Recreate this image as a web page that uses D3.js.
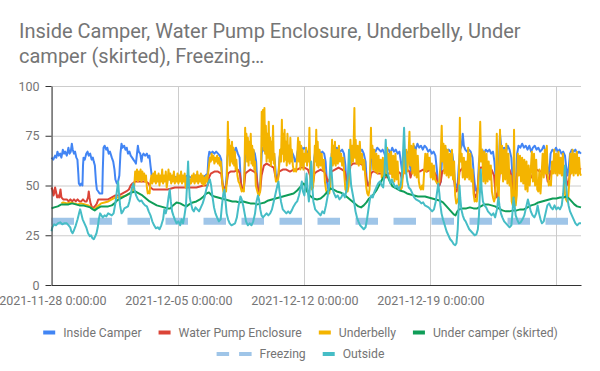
<!DOCTYPE html>
<html><head><meta charset="utf-8">
<script src="https://cdn.jsdelivr.net/npm/d3@7"></script>
<style>body{margin:0;background:#fff;} svg text{font-family:Roboto,"Noto Sans",sans-serif;}</style>
</head><body>
<svg id="chart" width="600" height="371"></svg>
<script>
// ---------- data ----------
const titleLines = ["Inside Camper, Water Pump Enclosure, Underbelly, Under", "camper (skirted), Freezing\u2026"];
const seriesNames = ["Inside Camper", "Water Pump Enclosure", "Underbelly", "Under camper (skirted)", "Freezing", "Outside"];
const xGridDays = ["2021-11-28", "2021-12-05", "2021-12-12", "2021-12-19", "2021-12-26"];
const xTickLabels = ["2021-11-28 0:00:00", "2021-12-05 0:00:00", "2021-12-12 0:00:00", "2021-12-19 0:00:00"];
const yTicks = [0, 25, 50, 75, 100];
// [days after 2021-11-28 00:00, °F]
const insideCamper = [[-0.05,64],[0.05,63],[0.15,65],[0.22,64],[0.28,67],[0.35,65],[0.43,66],[0.5,64],[0.58,68],[0.65,66],[0.71,67],[0.8,65],[0.89,69],[0.95,66],[1.02,67],[1.08,71],[1.13,68],[1.2,66],[1.26,67],[1.33,64],[1.39,63],[1.44,56],[1.47,51],[1.54,50],[1.6,51],[1.67,50],[1.7,60],[1.73,64],[1.8,63],[1.88,66],[1.95,67],[2.02,65],[2.1,66],[2.18,63],[2.25,64],[2.3,62],[2.36,60],[2.42,52],[2.47,48],[2.55,47],[2.62,46],[2.7,46],[2.77,46],[2.8,58],[2.84,69],[2.9,70],[2.99,68],[3.05,69],[3.13,66],[3.2,67],[3.3,64],[3.38,62],[3.45,58],[3.5,53],[3.58,51],[3.65,52],[3.72,55],[3.78,66],[3.84,71],[3.9,69],[3.99,70],[4.06,68],[4.13,69],[4.2,66],[4.28,67],[4.35,65],[4.43,64],[4.5,63],[4.58,62],[4.64,61],[4.7,66],[4.75,70],[4.8,67],[4.88,66],[4.95,62],[5.0,65],[5.06,66],[5.15,65],[5.25,66],[5.32,64],[5.39,65],[5.45,60],[5.52,55],[5.58,54],[5.7,53],[5.9,54],[6.1,53],[6.3,54],[6.5,53],[6.7,55],[6.9,54],[7.1,55],[7.3,54],[7.5,55],[7.7,54],[7.9,55],[8.1,55],[8.3,54],[8.5,55],[8.62,56],[8.67,64],[8.72,67],[8.8,66],[8.9,67],[9.0,66],[9.1,67],[9.2,66],[9.3,65],[9.38,63],[9.42,56],[9.47,50],[9.55,49],[9.62,49],[9.68,55],[9.72,64],[9.8,68],[9.9,66],[10.0,68],[10.1,67],[10.2,69],[10.3,66],[10.4,64],[10.45,55],[10.5,49],[10.58,48],[10.65,50],[10.7,62],[10.75,68],[10.85,67],[10.95,69],[11.05,67],[11.15,68],[11.25,66],[11.32,62],[11.38,52],[11.45,47],[11.52,47],[11.58,56],[11.63,66],[11.7,69],[11.8,67],[11.9,68],[12.0,66],[12.1,68],[12.2,67],[12.3,66],[12.36,62],[12.42,55],[12.5,54],[12.56,56],[12.62,64],[12.7,68],[12.8,69],[12.9,67],[13.0,68],[13.1,66],[13.2,68],[13.3,67],[13.4,65],[13.48,62],[13.55,63],[13.62,67],[13.7,69],[13.8,70],[13.9,68],[14.0,69],[14.1,68],[14.2,66],[14.3,64],[14.36,56],[14.42,52],[14.48,53],[14.55,64],[14.62,68],[14.7,67],[14.8,68],[14.9,66],[15.0,67],[15.1,66],[15.18,62],[15.25,52],[15.33,48],[15.4,49],[15.46,58],[15.52,66],[15.6,68],[15.7,67],[15.8,69],[15.9,68],[16.0,67],[16.1,68],[16.2,66],[16.28,60],[16.34,50],[16.42,49],[16.48,58],[16.54,67],[16.62,68],[16.7,69],[16.8,67],[16.9,68],[17.0,69],[17.1,67],[17.2,68],[17.3,66],[17.4,62],[17.46,53],[17.52,51],[17.58,50],[17.64,52],[17.7,62],[17.76,67],[17.85,68],[17.95,67],[18.05,69],[18.15,68],[18.25,67],[18.35,68],[18.45,66],[18.52,64],[18.58,67],[18.68,68],[18.78,66],[18.88,69],[18.98,67],[19.08,68],[19.18,66],[19.28,67],[19.36,62],[19.42,58],[19.5,64],[19.58,68],[19.68,67],[19.78,66],[19.86,60],[19.92,57],[19.98,66],[20.08,70],[20.18,68],[20.28,71],[20.38,69],[20.48,70],[20.58,68],[20.68,70],[20.78,69],[20.88,67],[20.98,68],[21.08,66],[21.18,67],[21.28,65],[21.36,58],[21.42,51],[21.5,50],[21.58,52],[21.64,62],[21.72,68],[21.82,69],[21.92,67],[22.02,68],[22.12,67],[22.22,66],[22.3,60],[22.36,52],[22.44,49],[22.52,51],[22.58,60],[22.66,68],[22.74,70],[22.8,76],[22.86,70],[22.94,68],[23.04,67],[23.14,68],[23.24,67],[23.34,64],[23.42,55],[23.5,48],[23.58,47],[23.64,50],[23.7,62],[23.78,67],[23.88,68],[23.98,66],[24.08,68],[24.18,67],[24.28,68],[24.38,66],[24.48,67],[24.56,62],[24.64,52],[24.72,50],[24.8,60],[24.87,76],[24.93,70],[25.0,68],[25.1,69],[25.2,67],[25.3,70],[25.4,68],[25.5,64],[25.56,55],[25.62,47],[25.7,46],[25.76,52],[25.82,66],[25.9,70],[26.0,69],[26.1,71],[26.2,69],[26.3,70],[26.4,68],[26.5,70],[26.6,67],[26.7,69],[26.8,70],[26.9,68],[27.0,69],[27.1,67],[27.2,68],[27.3,70],[27.4,67],[27.5,60],[27.56,56],[27.62,58],[27.68,66],[27.78,68],[27.88,67],[27.98,69],[28.08,67],[28.18,68],[28.28,66],[28.38,67],[28.48,65],[28.56,58],[28.62,55],[28.7,60],[28.76,66],[28.86,68],[28.96,67],[29.06,68],[29.16,66],[29.26,67],[29.37,66]];
const waterPump = [[-0.05,49],[0.0,48],[0.06,45],[0.1,46],[0.15,49],[0.2,47],[0.26,44],[0.32,45],[0.38,44],[0.45,48],[0.5,44],[0.6,43],[0.7,43],[0.8,43],[0.9,42],[1.0,43],[1.1,42],[1.2,43],[1.3,42],[1.4,43],[1.5,42],[1.6,42],[1.7,43],[1.8,42],[1.9,42],[1.98,44],[2.02,47],[2.06,44],[2.12,41],[2.2,39],[2.3,39],[2.4,40],[2.47,41],[2.55,43],[2.7,43],[2.9,43],[3.1,43],[3.3,44],[3.5,45],[3.7,45],[3.9,46],[4.1,47],[4.25,48],[4.35,50],[4.45,51],[4.6,52],[4.8,52],[5.0,52],[5.2,52],[5.35,51],[5.45,49],[5.6,48],[5.8,48],[6.0,48],[6.4,48],[6.8,49],[7.2,49],[7.6,49],[8.0,49],[8.4,50],[8.62,50],[8.7,54],[8.8,56],[9.0,57],[9.2,57],[9.38,56],[9.45,51],[9.52,48],[9.6,48],[9.68,51],[9.76,56],[9.9,57],[10.1,57],[10.3,58],[10.42,56],[10.48,51],[10.56,48],[10.64,49],[10.72,56],[10.85,57],[11.0,58],[11.2,57],[11.32,56],[11.4,50],[11.46,46],[11.54,47],[11.62,55],[11.75,60],[11.9,61],[12.1,60],[12.3,59],[12.38,55],[12.45,53],[12.52,53],[12.6,57],[12.8,58],[13.0,58],[13.2,57],[13.4,58],[13.6,58],[13.8,59],[14.0,59],[14.2,58],[14.32,55],[14.4,51],[14.48,51],[14.56,56],[14.7,57],[14.9,58],[15.1,57],[15.2,55],[15.3,52],[15.4,53],[15.5,57],[15.7,58],[15.9,59],[16.1,58],[16.25,57],[16.32,53],[16.4,52],[16.48,54],[16.56,60],[16.7,61],[16.9,61],[17.1,61],[17.3,60],[17.42,55],[17.5,50],[17.6,50],[17.7,56],[17.8,57],[17.9,57],[18.1,56],[18.3,56],[18.45,55],[18.52,54],[18.6,56],[18.8,56],[19.0,56],[19.2,57],[19.34,56],[19.42,53],[19.5,56],[19.7,58],[19.84,57],[19.9,54],[19.98,57],[20.2,58],[20.4,57],[20.6,58],[20.8,57],[21.0,58],[21.2,57],[21.32,55],[21.4,51],[21.5,50],[21.58,52],[21.66,57],[21.8,58],[22.0,58],[22.2,57],[22.3,54],[22.38,48],[22.46,47],[22.54,50],[22.62,57],[22.8,59],[23.0,59],[23.2,58],[23.36,55],[23.44,46],[23.52,44],[23.6,46],[23.7,56],[23.8,59],[24.0,59],[24.2,58],[24.4,58],[24.54,55],[24.62,46],[24.7,44],[24.78,48],[24.86,57],[25.0,59],[25.2,58],[25.4,58],[25.5,55],[25.58,46],[25.66,44],[25.74,46],[25.82,56],[26.0,58],[26.2,58],[26.4,57],[26.5,55],[26.6,54],[26.7,56],[26.9,58],[27.1,57],[27.3,58],[27.45,56],[27.52,52],[27.6,53],[27.68,57],[27.9,59],[28.1,59],[28.3,58],[28.5,57],[28.58,52],[28.66,50],[28.74,55],[28.82,59],[29.0,60],[29.2,59],[29.37,58]];
const underbelly = [[0.5,41],[0.6,41.5],[0.8,41],[1.0,41.5],[1.2,41],[1.4,40.5],[1.6,41],[1.8,40.5],[2.0,40],[2.2,38.5],[2.35,38],[2.5,39.5],[2.7,41],[2.9,41.5],[3.1,42],[3.3,43],[3.5,44],[3.7,44],[3.9,44.5],[4.1,45],[4.3,46],[4.45,47],[4.55,50],[4.6,57],[4.65,53],[4.7,58],[4.75,52],[4.8,57],[4.85,53],[4.9,58],[4.95,52],[5.0,57],[5.05,53],[5.1,56],[5.15,52],[5.2,55],[5.25,49],[5.3,46],[5.35,47],[5.4,46],[5.45,52],[5.5,55],[5.55,51],[5.6,56],[5.65,52],[5.7,57],[5.75,51],[5.8,55],[5.85,52],[5.9,56],[5.95,50],[6.0,55],[6.05,52],[6.1,58],[6.15,51],[6.2,55],[6.25,52],[6.3,57],[6.35,49],[6.4,52],[6.45,58],[6.5,53],[6.55,56],[6.6,51],[6.65,55],[6.7,52],[6.75,57],[6.8,51],[6.85,54],[6.9,52],[6.95,56],[7.0,51],[7.05,55],[7.1,52],[7.15,57],[7.2,51],[7.25,55],[7.3,52],[7.35,56],[7.4,49],[7.45,54],[7.5,51],[7.55,55],[7.6,50],[7.65,53],[7.7,51],[7.75,55],[7.8,52],[7.85,56],[7.9,51],[7.95,55],[8.0,52],[8.05,57],[8.1,51],[8.15,55],[8.2,52],[8.25,56],[8.3,51],[8.35,55],[8.4,50],[8.45,54],[8.5,51],[8.55,55],[8.6,52],[8.65,56],[8.7,60],[8.75,64],[8.8,62],[8.85,66],[8.9,63],[8.95,65],[9.0,61],[9.05,64],[9.1,62],[9.15,65],[9.2,61],[9.25,64],[9.3,60],[9.35,62],[9.4,57],[9.45,50],[9.5,47],[9.55,46],[9.6,48],[9.65,47],[9.7,55],[9.75,82],[9.78,66],[9.82,73],[9.86,60],[9.9,70],[9.94,62],[9.98,72],[10.02,61],[10.06,69],[10.1,60],[10.14,67],[10.18,58],[10.22,63],[10.28,55],[10.34,52],[10.4,51],[10.46,49],[10.52,47],[10.58,48],[10.64,47],[10.68,60],[10.71,79],[10.74,66],[10.78,76],[10.82,62],[10.86,74],[10.9,60],[10.94,72],[10.98,63],[11.02,76],[11.06,61],[11.1,70],[11.14,60],[11.18,68],[11.22,58],[11.26,62],[11.3,50],[11.36,48],[11.42,46],[11.48,45],[11.54,47],[11.6,62],[11.63,87],[11.66,70],[11.7,88],[11.74,68],[11.78,89],[11.82,66],[11.86,80],[11.9,62],[11.94,76],[11.98,64],[12.02,82],[12.06,62],[12.1,74],[12.14,60],[12.18,72],[12.22,63],[12.26,80],[12.3,61],[12.34,66],[12.38,55],[12.42,52],[12.48,52],[12.54,53],[12.6,60],[12.65,68],[12.7,62],[12.75,83],[12.78,66],[12.82,76],[12.86,62],[12.9,78],[12.94,63],[12.98,72],[13.02,60],[13.06,76],[13.1,62],[13.14,70],[13.18,61],[13.22,74],[13.26,62],[13.3,68],[13.36,60],[13.42,57],[13.48,58],[13.54,57],[13.6,64],[13.65,74],[13.7,62],[13.74,72],[13.78,58],[13.82,70],[13.86,60],[13.9,68],[13.95,58],[14.0,66],[14.05,62],[14.1,69],[14.15,60],[14.2,66],[14.24,62],[14.28,79],[14.32,58],[14.36,50],[14.42,48],[14.48,49],[14.54,56],[14.58,70],[14.62,62],[14.66,78],[14.7,60],[14.74,72],[14.78,59],[14.84,68],[14.9,60],[14.96,66],[15.02,58],[15.08,63],[15.14,52],[15.2,48],[15.26,46],[15.32,47],[15.38,46],[15.44,50],[15.5,62],[15.54,73],[15.58,60],[15.62,70],[15.66,61],[15.7,72],[15.74,60],[15.8,68],[15.86,61],[15.92,70],[15.98,62],[16.04,66],[16.1,60],[16.16,64],[16.22,55],[16.28,48],[16.34,47],[16.4,47],[16.46,50],[16.52,62],[16.56,73],[16.6,61],[16.65,70],[16.7,62],[16.74,72],[16.78,89],[16.81,64],[16.85,73],[16.9,61],[16.96,70],[17.02,60],[17.08,72],[17.14,61],[17.2,66],[17.26,58],[17.32,63],[17.38,55],[17.44,49],[17.5,46],[17.56,45],[17.62,48],[17.66,60],[17.7,79],[17.73,64],[17.78,70],[17.82,58],[17.88,68],[17.94,57],[18.0,66],[18.06,56],[18.12,65],[18.18,57],[18.24,63],[18.3,54],[18.36,64],[18.42,53],[18.48,62],[18.54,55],[18.6,69],[18.65,58],[18.7,66],[18.76,56],[18.82,67],[18.88,54],[18.94,65],[19.0,52],[19.06,66],[19.12,53],[19.18,62],[19.24,51],[19.3,49],[19.36,48],[19.42,49],[19.48,56],[19.54,66],[19.6,56],[19.66,68],[19.72,57],[19.78,64],[19.84,77],[19.88,60],[19.94,70],[20.0,56],[20.06,71],[20.12,55],[20.18,68],[20.24,54],[20.3,65],[20.36,52],[20.42,49],[20.48,48],[20.54,50],[20.6,48],[20.66,58],[20.72,66],[20.78,57],[20.84,66],[20.9,58],[20.96,64],[21.02,54],[21.08,61],[21.14,53],[21.2,60],[21.26,53],[21.32,52],[21.38,51],[21.44,51],[21.5,52],[21.56,60],[21.63,80],[21.68,62],[21.73,71],[21.78,56],[21.84,70],[21.9,55],[21.96,68],[22.02,54],[22.08,66],[22.14,55],[22.2,68],[22.26,53],[22.32,62],[22.38,45],[22.44,41],[22.5,42],[22.56,44],[22.6,60],[22.64,84],[22.68,62],[22.74,66],[22.8,54],[22.86,64],[22.92,53],[22.98,62],[23.04,54],[23.1,69],[23.16,53],[23.22,66],[23.28,52],[23.34,58],[23.4,46],[23.46,42],[23.52,43],[23.58,42],[23.64,48],[23.7,58],[23.77,82],[23.82,62],[23.88,68],[23.94,52],[24.0,67],[24.06,51],[24.12,66],[24.18,52],[24.24,62],[24.3,53],[24.36,60],[24.42,47],[24.48,44],[24.54,42],[24.6,44],[24.66,58],[24.69,76],[24.74,50],[24.8,43],[24.87,78],[24.92,56],[24.98,70],[25.04,52],[25.1,68],[25.16,53],[25.22,71],[25.28,51],[25.34,66],[25.4,50],[25.46,55],[25.52,42],[25.58,40],[25.62,52],[25.65,78],[25.69,48],[25.74,40],[25.8,45],[25.86,66],[25.92,55],[25.98,65],[26.04,52],[26.1,64],[26.16,51],[26.22,63],[26.28,48],[26.34,62],[26.4,47],[26.46,60],[26.52,50],[26.58,58],[26.64,67],[26.7,52],[26.76,66],[26.82,50],[26.88,63],[26.94,48],[27.0,47],[27.06,58],[27.12,46],[27.18,55],[27.24,66],[27.3,54],[27.36,68],[27.42,56],[27.47,70],[27.52,55],[27.58,50],[27.64,52],[27.7,50],[27.76,62],[27.82,56],[27.88,68],[27.94,56],[28.0,66],[28.06,55],[28.12,67],[28.18,56],[28.24,64],[28.3,55],[28.36,66],[28.42,52],[28.48,46],[28.54,43],[28.6,42],[28.66,44],[28.72,52],[28.78,66],[28.84,56],[28.9,68],[28.96,55],[29.02,66],[29.08,56],[29.14,67],[29.2,55],[29.26,64],[29.32,56],[29.37,55]];
const underCamper = [[-0.05,38.5],[0.1,39],[0.3,39.5],[0.5,40.5],[0.7,40.5],[0.9,40.5],[1.1,41],[1.3,40.5],[1.5,40],[1.7,40],[1.9,39.5],[2.1,39],[2.25,38],[2.35,37.5],[2.5,38.5],[2.7,39.5],[2.9,39.5],[3.1,39.5],[3.3,40],[3.45,41],[3.6,42.5],[3.8,43.5],[4.0,44.5],[4.2,45.5],[4.4,46.5],[4.6,47],[4.8,46],[5.0,45],[5.2,43.5],[5.4,42],[5.6,41],[5.8,40],[6.0,39.5],[6.2,39],[6.4,38.5],[6.55,38.5],[6.7,40],[6.9,41.5],[7.1,41],[7.3,40],[7.45,39.5],[7.6,40.5],[7.8,41.5],[8.0,42],[8.2,43],[8.4,44.5],[8.55,46],[8.7,46.5],[8.85,45],[9.0,44.5],[9.2,44],[9.4,43.5],[9.6,43],[9.8,42.5],[10.0,42],[10.2,42],[10.4,41.5],[10.6,42],[10.8,41.5],[11.0,41],[11.2,41],[11.4,40.5],[11.6,41],[11.8,41.5],[12.0,42.5],[12.2,43],[12.4,43.5],[12.6,44],[12.8,44.5],[13.0,45],[13.2,45.5],[13.4,46],[13.6,47.5],[13.8,49.5],[13.95,51],[14.05,50],[14.15,47],[14.3,45],[14.5,43.5],[14.7,43],[14.9,43.5],[15.1,45],[15.3,47],[15.45,48.5],[15.6,48],[15.8,47],[16.0,46.5],[16.2,45.5],[16.4,44],[16.6,42.5],[16.8,41],[17.0,39.5],[17.15,39],[17.3,40],[17.45,41.5],[17.6,43.5],[17.8,45],[18.0,47.5],[18.2,51],[18.35,53.5],[18.5,55.5],[18.6,55],[18.75,52],[18.9,49.5],[19.1,48.5],[19.3,47.5],[19.5,47],[19.7,46],[19.9,45.5],[20.1,45],[20.3,44.5],[20.5,44.5],[20.7,44.5],[20.9,44],[21.1,43.5],[21.3,43],[21.5,42.5],[21.7,41.5],[21.85,40],[22.0,38.5],[22.15,37],[22.3,35.5],[22.4,35],[22.5,37],[22.6,38],[22.8,38.5],[23.0,38.5],[23.2,39],[23.4,38.5],[23.6,38.5],[23.8,39.5],[24.0,40.5],[24.2,40.5],[24.4,40],[24.6,39.5],[24.8,38.5],[25.0,37.5],[25.2,37],[25.4,37],[25.6,37.5],[25.8,37.5],[26.0,38],[26.2,38],[26.4,39],[26.6,40],[26.8,40.5],[27.0,41.5],[27.2,42],[27.4,42.5],[27.6,43],[27.8,43.5],[28.0,43.5],[28.2,44],[28.4,44],[28.55,44.5],[28.7,43.5],[28.85,42],[29.0,40.5],[29.15,39.5],[29.37,39]];
const freezing = [[-0.05,32],[29.37,32]];
const outside = [[-0.05,27],[0.0,29],[0.1,30.5],[0.2,30],[0.3,31],[0.43,31.5],[0.55,30.5],[0.65,31],[0.8,31],[0.9,30],[0.99,29],[1.05,27],[1.12,26],[1.2,27.5],[1.3,30],[1.4,33],[1.48,36],[1.54,38],[1.6,36],[1.68,33],[1.78,31],[1.88,29],[1.98,26],[2.08,24.5],[2.15,25],[2.22,23.5],[2.3,23],[2.38,24.5],[2.45,26],[2.52,29],[2.58,33],[2.65,36],[2.72,35],[2.8,34],[2.9,35],[3.0,34.5],[3.1,36],[3.2,35.5],[3.3,35],[3.4,36],[3.5,41],[3.58,47],[3.65,52],[3.7,46],[3.76,40],[3.84,36],[3.92,37],[4.0,38.5],[4.1,39],[4.2,39.5],[4.28,42],[4.35,45],[4.42,49],[4.5,51],[4.56,48],[4.65,45],[4.75,43],[4.85,42],[4.95,42.5],[5.05,41],[5.15,40],[5.25,39.5],[5.35,37],[5.45,35],[5.55,32],[5.65,30],[5.75,28.5],[5.85,29],[5.95,28],[6.05,30],[6.15,33],[6.22,38],[6.3,36],[6.38,39],[6.45,44],[6.52,48],[6.58,42],[6.65,37],[6.72,35],[6.8,33],[6.9,31],[7.0,32],[7.1,30],[7.18,33],[7.26,31],[7.34,35],[7.42,40],[7.48,50],[7.54,62],[7.58,52],[7.63,44],[7.7,41],[7.78,38],[7.86,37],[7.95,39],[8.05,38],[8.15,37],[8.25,39],[8.35,41],[8.45,44],[8.55,48],[8.65,51],[8.75,53],[8.82,50],[8.9,44],[8.98,39],[9.06,36],[9.15,34],[9.25,32],[9.35,33],[9.42,40],[9.5,46],[9.56,48],[9.62,42],[9.68,36],[9.76,33],[9.85,31],[9.95,30],[10.05,30.5],[10.15,31],[10.25,34],[10.35,40],[10.45,44.5],[10.52,43],[10.6,40],[10.68,36],[10.76,32],[10.86,30],[10.96,31],[11.06,30],[11.16,32],[11.26,36],[11.34,42],[11.42,45],[11.48,43],[11.55,38],[11.62,35],[11.7,34],[11.8,35],[11.9,36],[12.0,35],[12.1,36],[12.2,38],[12.3,42],[12.4,46],[12.5,50],[12.56,52],[12.62,47],[12.7,42],[12.8,38],[12.9,37],[13.0,36],[13.1,37],[13.2,36],[13.3,37.5],[13.4,39.5],[13.5,41],[13.6,42],[13.7,45],[13.8,49],[13.86,52],[13.92,47],[14.0,45],[14.06,50],[14.12,56],[14.18,48],[14.25,42],[14.32,50],[14.38,62],[14.44,50],[14.5,42],[14.6,38],[14.7,37],[14.8,36],[14.9,35],[15.0,37],[15.1,36],[15.2,40],[15.3,45],[15.38,50],[15.46,64],[15.52,56],[15.58,48],[15.65,46],[15.75,44],[15.85,45],[15.95,43],[16.05,44],[16.15,46],[16.25,44],[16.35,48],[16.42,55],[16.48,68],[16.53,58],[16.6,50],[16.68,46],[16.76,42],[16.84,37],[16.92,34],[17.0,32],[17.1,30],[17.2,29],[17.3,28],[17.4,29],[17.48,33],[17.56,38],[17.64,43],[17.72,45],[17.8,44],[17.9,47],[18.0,49],[18.1,51],[18.2,52],[18.3,50],[18.38,49],[18.45,56],[18.52,73],[18.57,62],[18.63,56],[18.7,54],[18.78,51],[18.86,53],[18.95,51],[19.05,49],[19.15,50],[19.25,48],[19.35,50],[19.42,56],[19.48,66],[19.54,79],[19.58,68],[19.64,58],[19.72,52],[19.8,49],[19.9,48],[20.0,46],[20.1,44],[20.2,43],[20.3,42.5],[20.4,42],[20.5,41],[20.6,41.5],[20.7,40],[20.8,39.5],[20.9,39],[21.0,38],[21.1,37],[21.2,38],[21.3,42],[21.38,47],[21.44,51],[21.5,46],[21.56,40],[21.62,36],[21.7,33],[21.8,30],[21.9,27],[22.0,25],[22.1,23],[22.2,22],[22.3,20.5],[22.38,20],[22.45,21],[22.52,28],[22.58,40],[22.62,50],[22.66,44],[22.72,38],[22.8,35],[22.88,33],[22.96,32],[23.06,30],[23.16,28],[23.26,27],[23.36,26],[23.46,25],[23.56,25.5],[23.64,28],[23.7,35],[23.76,48],[23.8,58],[23.85,48],[23.92,42],[24.0,40],[24.1,39],[24.2,37],[24.3,36],[24.4,35],[24.5,36],[24.6,34],[24.7,38],[24.78,44],[24.84,40],[24.92,36],[25.0,34],[25.1,32],[25.2,31],[25.3,30],[25.4,29],[25.5,30],[25.56,36],[25.62,44],[25.68,40],[25.74,35],[25.82,33],[25.92,31],[26.02,31.5],[26.12,33],[26.22,35],[26.32,39],[26.42,43],[26.5,40],[26.58,37],[26.68,35],[26.78,34],[26.88,36],[26.96,40],[27.04,36],[27.12,33],[27.2,31],[27.3,32],[27.4,36],[27.5,40],[27.6,41],[27.7,39],[27.8,38],[27.9,40],[28.0,38],[28.1,39],[28.2,38],[28.3,40],[28.38,46],[28.44,55],[28.48,60],[28.53,52],[28.6,44],[28.68,40],[28.76,37],[28.86,35],[28.96,33],[29.06,31],[29.16,30],[29.26,31],[29.37,31]];

// ---------- drawing ----------
const seriesData = [insideCamper, waterPump, underbelly, underCamper, freezing, outside];
const colors = ["#4285f4", "#db4437", "#f4b400", "#0f9d58", "#9fc5e8", "#46bdc6"];
const textColor = "#757575";
const baseMs = Date.UTC(2021, 10, 28);
const toDate = d => new Date(baseMs + d * 86400000);
const parseDay = s => { const p = s.split("-").map(Number); return new Date(Date.UTC(p[0], p[1]-1, p[2])); };

const svg = d3.select("#chart");
const L = 51.5, R = 581, T = 86, B = 285;
const x = d3.scaleUtc().domain([toDate(-0.05), toDate(29.37)]).range([L, R]);
const y = d3.scaleLinear().domain([0, 100]).range([B, T]);

// title
const title = svg.append("text").attr("x", 19).attr("fill", textColor).style("font-size", "20px");
titleLines.forEach((t, i) => title.append("tspan").attr("x", 19).attr("y", 38 + i * 25).text(t));

// gridlines
svg.append("g").selectAll("line").data(yTicks.filter(v => v > 0)).join("line")
  .attr("x1", L).attr("x2", R).attr("y1", d => y(d) + 0.5).attr("y2", d => y(d) + 0.5)
  .attr("stroke", "#cccccc").attr("stroke-width", 1);
svg.append("g").selectAll("line").data(xGridDays.map(parseDay)).join("line")
  .attr("x1", d => Math.round(x(d)) + 0.5).attr("x2", d => Math.round(x(d)) + 0.5)
  .attr("y1", T).attr("y2", B).attr("stroke", "#cccccc").attr("stroke-width", 1);

// series
const line = d3.line().x(d => x(toDate(d[0]))).y(d => y(d[1]));
seriesData.forEach((data, i) => {
  const isFreeze = seriesNames[i] === "Freezing";
  svg.append("path").datum(data).attr("d", line).attr("fill", "none")
    .attr("stroke", colors[i]).attr("stroke-width", isFreeze ? 7 : 2)
    .attr("stroke-dasharray", isFreeze ? "22.5,15.5" : null)
    .attr("stroke-linejoin", "round");
});

// y axis
const yAxis = svg.append("g").attr("transform", `translate(${L},0)`)
  .call(d3.axisLeft(y).tickValues(yTicks).tickSize(6).tickSizeOuter(0).tickPadding(6));
yAxis.select(".domain").attr("stroke", "#333");
yAxis.selectAll(".tick line").attr("stroke", "#333");
yAxis.selectAll("text").attr("fill", textColor).style("font-size", "12.5px").style("font-family", "Roboto");

// x axis labels
const xAxis = svg.append("g").attr("transform", `translate(0,${B})`)
  .call(d3.axisBottom(x).tickValues(xGridDays.slice(0, xTickLabels.length).map(parseDay))
    .tickFormat((d, i) => xTickLabels[i]).tickSize(0).tickPadding(11));
xAxis.select(".domain").attr("stroke", "#333");
xAxis.selectAll("text").attr("fill", textColor).style("font-size", "12.5px").style("font-family", "Roboto");

// legend
const rows = [[0, 1, 2, 3], [4, 5]];
const rowY = [332.5, 354];
rows.forEach((row, ri) => {
  const g = svg.append("g");
  let cx = 0;
  row.forEach(si => {
    const item = g.append("g").attr("transform", `translate(${cx},0)`);
    let sw = 12;
    if (seriesNames[si] === "Freezing") {
      item.append("rect").attr("x", 0).attr("y", -2).attr("width", 12.5).attr("height", 4).attr("fill", colors[si]);
      item.append("rect").attr("x", 22.5).attr("y", -2).attr("width", 12.5).attr("height", 4).attr("fill", colors[si]);
      sw = 35;
    } else {
      item.append("rect").attr("x", 0).attr("y", -2).attr("width", 12).attr("height", 4).attr("fill", colors[si]);
    }
    const t = item.append("text").attr("x", sw + 8).attr("y", 0).attr("dy", "0.35em")
      .attr("fill", textColor).style("font-size", "12.2px").text(seriesNames[si]);
    cx += sw + 8 + t.node().getComputedTextLength() + 17;
  });
  const w = cx - 17;
  g.attr("transform", `translate(${300.5 - w / 2},${rowY[ri]})`);
});
</script>
</body></html>
